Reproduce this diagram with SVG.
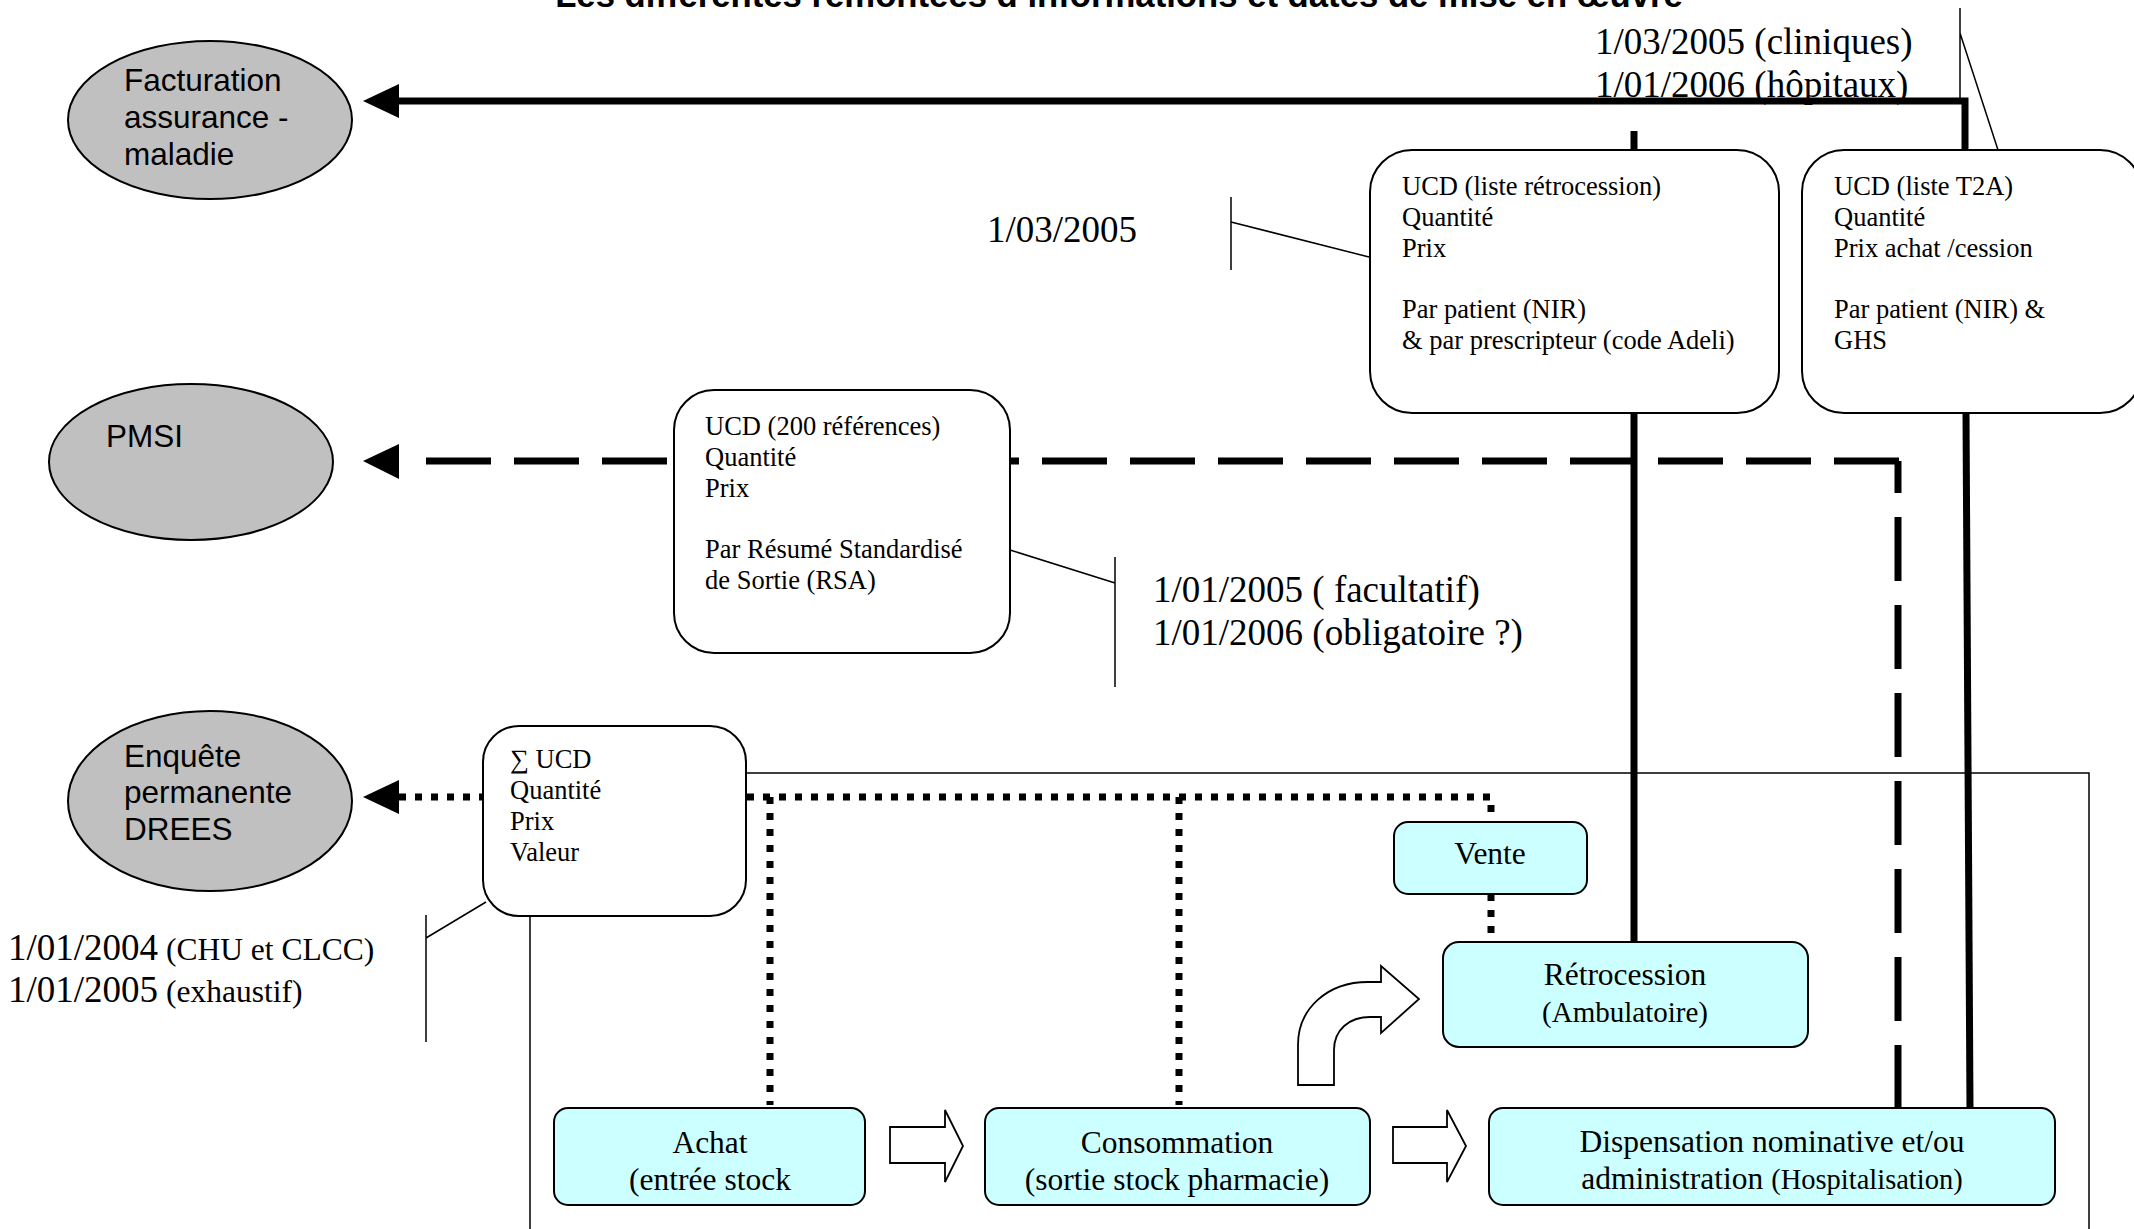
<svg xmlns="http://www.w3.org/2000/svg" width="2134" height="1229" viewBox="0 0 2134 1229">
<defs>
<style>
.ell{fill:#c0c0c0;stroke:#000;stroke-width:2}
.box{fill:#fff;stroke:#000;stroke-width:2}
.proc{fill:#ccffff;stroke:#000;stroke-width:2}
.blk{fill:#fff;stroke:#000;stroke-width:1.8}
.sans{font-family:"Liberation Sans",Arial,sans-serif;font-size:31.5px;fill:#000}
.serif{font-family:"Liberation Serif","Times New Roman",serif;fill:#000}
.bt{font-size:26.5px}
.pt{font-size:31.5px;text-anchor:middle}
.dt{font-size:37px}
.thick{stroke:#000;stroke-width:7;fill:none}
.dash{stroke-dasharray:65 23}
.dot{stroke-dasharray:7 9}
.thin{stroke:#000;stroke-width:1.5;fill:none}
.head{fill:#000}
</style>
</defs>
<rect x="0" y="0" width="2134" height="1229" fill="#fff"/>
<text class="sans" x="1119" y="7" text-anchor="middle" font-weight="bold" style="font-size:34.7px">Les différentes remontées d’informations et dates de mise en œuvre</text>

<g id="connectors">
  <path class="thin" d="M746,773 H2089 V1240 M530,917 V1240"/>
  <path class="thick" d="M399,101 H1965 V150"/>
  <path class="thick" d="M1634,131 V150"/>
  <path class="thick" d="M1634,413 V942"/>
  <path class="thick" d="M1966,413 L1970,1109"/>
  <polygon class="head" points="363,101 399,84 399,118"/>
  <path class="thick dash" stroke-dashoffset="65" d="M403,461 H1902"/>
  <path class="thick" stroke-dasharray="64 24" d="M1898,1109 V461"/>
  <polygon class="head" points="363,461 399,444 399,479"/>
  <path class="thick dot" d="M399,797 H483"/>
  <path class="thick dot" d="M747,797 H1491 V822"/>
  <path class="thick dot" d="M770,797 V1105"/>
  <path class="thick dot" d="M1179,797 V1105"/>
  <path class="thick dot" d="M1491,894 V942"/>
  <polygon class="head" points="363,797 399,780 399,814"/>
  <path class="thin" d="M1960,8 V101 M1960,33 L1998,150"/>
  <path class="thin" d="M1231,197 V270 M1231,222 L1369,257"/>
  <path class="thin" d="M1010,550 L1115,583 M1115,557 V687"/>
  <path class="thin" d="M486,902 L426,938 M426,915 V1042"/>
  <path class="blk" d="M890,1127 H945 V1110 L963,1146 L945,1182 V1163 H890 Z"/>
  <path class="blk" d="M1393,1127 H1447 V1110 L1466,1146 L1447,1182 V1163 H1393 Z"/>
  <path class="blk" d="M1298,1085 V1045 C1298,1008 1328,982 1368,982 H1381 V966 L1419,999 L1381,1033 V1017 H1370 C1349,1017 1334,1030 1334,1050 V1085 Z"/>
</g>

<g id="facturation">
  <ellipse class="ell" cx="210" cy="120" rx="142" ry="79"/>
  <text class="sans"><tspan x="124" y="91">Facturation</tspan><tspan x="124" y="128">assurance -</tspan><tspan x="124" y="165">maladie</tspan></text>
</g>
<g id="pmsi">
  <ellipse class="ell" cx="191" cy="462" rx="142" ry="78"/>
  <text class="sans" x="106" y="447">PMSI</text>
</g>
<g id="drees">
  <ellipse class="ell" cx="210" cy="801" rx="142" ry="90"/>
  <text class="sans"><tspan x="124" y="767">Enquête</tspan><tspan x="124" y="803">permanente</tspan><tspan x="124" y="840">DREES</tspan></text>
</g>

<g id="date-facturation">
  <text class="serif dt"><tspan x="1595" y="54">1/03/2005 (cliniques)</tspan><tspan x="1595" y="97">1/01/2006 (hôpitaux)</tspan></text>
</g>
<g id="date-retro">
  <text class="serif dt" x="987" y="242">1/03/2005</text>
</g>
<g id="date-pmsi">
  <text class="serif dt"><tspan x="1153" y="602">1/01/2005 ( facultatif)</tspan><tspan x="1153" y="645">1/01/2006 (obligatoire ?)</tspan></text>
</g>
<g id="date-drees">
  <text class="serif"><tspan x="8" y="960" font-size="37">1/01/2004</tspan><tspan font-size="31.5"> (CHU et CLCC)</tspan><tspan x="8" y="1002" font-size="37">1/01/2005</tspan><tspan font-size="31.5"> (exhaustif)</tspan></text>
</g>

<g id="box-retro-list">
  <rect class="box" x="1370" y="150" width="409" height="263" rx="42"/>
  <text class="serif bt"><tspan x="1402" y="195">UCD (liste rétrocession)</tspan><tspan x="1402" y="226">Quantité</tspan><tspan x="1402" y="257">Prix</tspan><tspan x="1402" y="318">Par patient (NIR)</tspan><tspan x="1402" y="349">&amp; par prescripteur (code Adeli)</tspan></text>
</g>
<g id="box-t2a">
  <rect class="box" x="1802" y="150" width="340" height="263" rx="42"/>
  <text class="serif bt"><tspan x="1834" y="195">UCD (liste T2A)</tspan><tspan x="1834" y="226">Quantité</tspan><tspan x="1834" y="257">Prix achat /cession</tspan><tspan x="1834" y="318">Par patient (NIR) &amp;</tspan><tspan x="1834" y="349">GHS</tspan></text>
</g>
<g id="box-pmsi">
  <rect class="box" x="674" y="390" width="336" height="263" rx="40"/>
  <text class="serif bt"><tspan x="705" y="435">UCD (200 références)</tspan><tspan x="705" y="466">Quantité</tspan><tspan x="705" y="497">Prix</tspan><tspan x="705" y="558">Par Résumé Standardisé</tspan><tspan x="705" y="589">de Sortie (RSA)</tspan></text>
</g>
<g id="box-drees">
  <rect class="box" x="483" y="726" width="263" height="190" rx="36"/>
  <text class="serif bt"><tspan x="510" y="768">∑ UCD</tspan><tspan x="510" y="799">Quantité</tspan><tspan x="510" y="830">Prix</tspan><tspan x="510" y="861">Valeur</tspan></text>
</g>

<g id="achat">
  <rect class="proc" x="554" y="1108" width="311" height="97" rx="14"/>
  <text class="serif pt"><tspan x="710" y="1153">Achat</tspan><tspan x="710" y="1190">(entrée stock</tspan></text>
</g>
<g id="consommation">
  <rect class="proc" x="985" y="1108" width="385" height="97" rx="14"/>
  <text class="serif pt"><tspan x="1177" y="1153">Consommation</tspan><tspan x="1177" y="1190">(sortie stock pharmacie)</tspan></text>
</g>
<g id="dispensation">
  <rect class="proc" x="1489" y="1108" width="566" height="97" rx="14"/>
  <text class="serif pt"><tspan x="1772" y="1152">Dispensation nominative et/ou</tspan><tspan x="1772" y="1189">administration <tspan font-size="28.5">(Hospitalisation)</tspan></tspan></text>
</g>
<g id="retrocession">
  <rect class="proc" x="1443" y="942" width="365" height="105" rx="16"/>
  <text class="serif pt"><tspan x="1625" y="985">Rétrocession</tspan><tspan x="1625" y="1022" font-size="29">(Ambulatoire)</tspan></text>
</g>
<g id="vente">
  <rect class="proc" x="1394" y="822" width="193" height="72" rx="14"/>
  <text class="serif pt" x="1490" y="864">Vente</text>
</g>
</svg>
